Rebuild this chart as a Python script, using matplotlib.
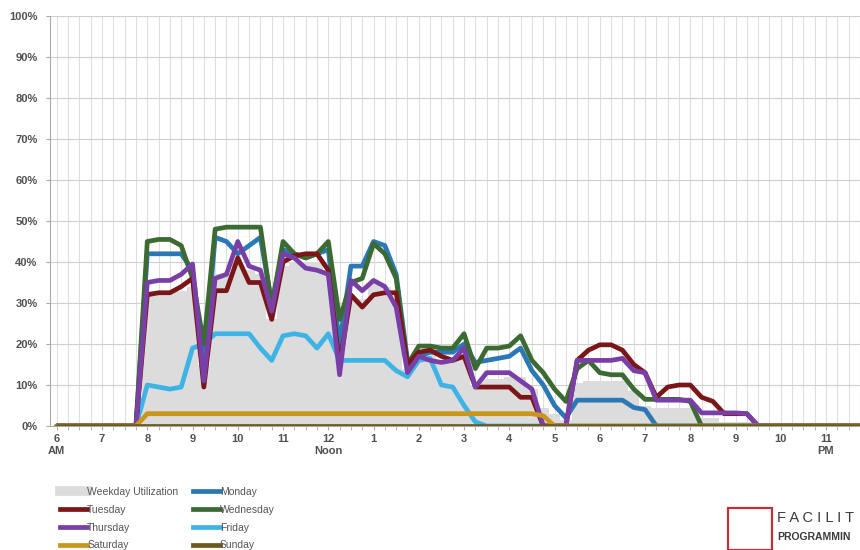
import numpy as np
import matplotlib
matplotlib.use("Agg")
import matplotlib.pyplot as plt
from matplotlib.lines import Line2D
from matplotlib.patches import Rectangle

plt.rcParams["font.family"] = ["Liberation Sans", "DejaVu Sans"]

# time of day in hours, 15 minute steps while the room is in use
times = [6.0, 7.75, 8.0, 8.25, 8.5, 8.75, 9.0, 9.25, 9.5, 9.75, 10.0, 10.25, 10.5, 10.75,
         11.0, 11.25, 11.5, 11.75, 12.0, 12.25, 12.5, 12.75, 13.0, 13.25, 13.5, 13.75,
         14.0, 14.25, 14.5, 14.75, 15.0, 15.25, 15.5, 15.75, 16.0, 16.25, 16.5, 16.75,
         17.0, 17.25, 17.5, 17.75, 18.0, 18.25, 18.5, 18.75, 19.0, 19.25, 19.5, 19.75,
         20.0, 20.25, 20.5, 20.75, 21.0, 21.25, 21.5, 21.75, 24.0]

weekday_util = [0, 0, 33, 33, 33, 33, 34, 15, 37, 37, 40, 38, 37, 26,
                39, 40, 40, 40, 38, 18, 31, 31, 35, 34, 30, 14,
                17.5, 17.5, 16, 16, 17, 10, 11.5, 11.5, 12, 12, 9, 4.5,
                3, 1.5, 10.5, 11, 11, 11, 11, 8.5, 5, 4.5, 4.5, 4.5,
                4.5, 2, 2, 1, 1, 1, 0, 0, 0]
monday = [0, 0, 42, 42, 42, 42, 38, 15, 46, 45, 42, 44, 46, 30,
          43, 42, 41, 42, 43, 20, 39, 39, 45, 44, 37, 16,
          17, 18, 18, 18, 20, 15.5, 16, 16.5, 17, 19, 13.5, 10,
          5, 2, 6.3, 6.3, 6.3, 6.3, 6.3, 4.5, 4, 0, 0, 0,
          0, 0, 0, 0, 0, 0, 0, 0, 0]
tuesday = [0, 0, 32, 32.5, 32.5, 34, 36, 9.5, 33, 33, 41, 35, 35, 26,
           40, 41.5, 42, 42, 38, 15, 32, 29, 32, 32.5, 32.5, 15,
           18, 18.5, 17, 16, 17, 9.5, 9.5, 9.5, 9.5, 7, 7, 0,
           0, 0, 16, 18.5, 19.8, 19.8, 18.5, 15, 13, 7, 9.5, 10,
           10, 7, 6, 3, 3, 3, 0, 0, 0]
wednesday = [0, 0, 45, 45.5, 45.5, 44, 36, 20, 48, 48.5, 48.5, 48.5, 48.5, 29,
             45, 42, 41, 42, 45, 26, 35, 36, 44.5, 42, 36, 15,
             19.5, 19.5, 19, 19, 22.5, 14, 19, 19, 19.5, 22, 16, 13,
             9, 6, 14, 16, 13, 12.5, 12.5, 9, 6.5, 6.5, 6.5, 6.5,
             6, 0, 0, 0, 0, 0, 0, 0, 0]
thursday = [0, 0, 35, 35.5, 35.5, 37, 39.5, 11, 36, 37, 45, 39, 38, 28,
            42, 41, 38.5, 38, 37, 12.5, 35.5, 33, 35.5, 34, 29, 13,
            17, 16, 15.5, 16, 19, 9.5, 13, 13, 13, 11, 9, 0,
            0, 0, 16, 16, 16, 16, 16.5, 13.5, 13, 6.3, 6.3, 6.3,
            6.3, 3.2, 3.2, 3.2, 3.2, 3, 0, 0, 0]
friday = [0, 0, 10, 9.5, 9, 9.5, 19, 20, 22.5, 22.5, 22.5, 22.5, 19, 16,
          22, 22.5, 22, 19, 22.5, 16, 16, 16, 16, 16, 13.5, 12,
          16, 16.5, 10, 9.5, 5, 1, 0, 0, 0, 0, 0, 0,
          0, 0, 0, 0, 0, 0, 0, 0, 0, 0, 0, 0,
          0, 0, 0, 0, 0, 0, 0, 0, 0]
saturday = [0, 0, 3, 3, 3, 3, 3, 3, 3, 3, 3, 3, 3, 3,
            3, 3, 3, 3, 3, 3, 3, 3, 3, 3, 3, 3,
            3, 3, 3, 3, 3, 3, 3, 3, 3, 3, 3, 2.5,
            0, 0, 0, 0, 0, 0, 0, 0, 0, 0, 0, 0,
            0, 0, 0, 0, 0, 0, 0, 0, 0]
sunday = [0] * len(times)

hour_labels = ["6\nAM", "7", "8", "9", "10", "11", "12\nNoon", "1", "2", "3",
               "4", "5", "6", "7", "8", "9", "10", "11\nPM"]

colors = {
    "Monday": "#2a78b5",
    "Tuesday": "#7a1518",
    "Wednesday": "#3c6a33",
    "Thursday": "#7a3fa6",
    "Friday": "#3db4e5",
    "Saturday": "#c8961c",
    "Sunday": "#6b5a1c",
}
fill_color = "#dcdcdc"

fig = plt.figure(figsize=(8.6, 5.5), dpi=100)
ax = fig.add_axes([50 / 860, 124 / 550, 810 / 860, 410 / 550])

ax.fill_between(times, weekday_util, color=fill_color, step="mid", lw=0, zorder=1)

series = [("Friday", friday), ("Monday", monday), ("Wednesday", wednesday),
          ("Tuesday", tuesday), ("Thursday", thursday), ("Saturday", saturday),
          ("Sunday", sunday)]
for i, (name, vals) in enumerate(series):
    ax.plot(times, vals, color=colors[name], lw=3.4, solid_joinstyle="round",
            solid_capstyle="round", zorder=3 + i)

ax.set_xlim(5.85, 23.7)
ax.set_ylim(0, 100)

ax.set_yticks(np.arange(0, 101, 10))
ax.set_yticklabels([f"{v}%" for v in range(0, 101, 10)])
ax.set_xticks(np.arange(6, 24, 1))
ax.set_xticklabels(hour_labels)
ax.set_xticks(np.arange(6, 23.8, 0.25), minor=True)

ax.grid(axis="y", color="#cfcfcf", lw=0.8, zorder=0)
ax.grid(axis="x", which="both", color="#dedede", lw=0.8, zorder=0)
ax.set_axisbelow(True)

for lab in ax.get_xticklabels() + ax.get_yticklabels():
    lab.set_fontweight("bold")
    lab.set_fontsize(8)
    lab.set_color("#505050")
ax.tick_params(axis="x", which="both", length=3, color="#aaaaaa", pad=3)
ax.tick_params(axis="y", length=3, color="#aaaaaa", pad=6)

for s in ["top", "right"]:
    ax.spines[s].set_visible(False)
ax.spines["left"].set_color("#aaaaaa")
ax.spines["bottom"].set_color("#aaaaaa")

handles = [
    Line2D([], [], color=fill_color, lw=7),
    Line2D([], [], color=colors["Tuesday"], lw=3.4),
    Line2D([], [], color=colors["Thursday"], lw=3.4),
    Line2D([], [], color=colors["Saturday"], lw=3.4),
    Line2D([], [], color=colors["Monday"], lw=3.4),
    Line2D([], [], color=colors["Wednesday"], lw=3.4),
    Line2D([], [], color=colors["Friday"], lw=3.4),
    Line2D([], [], color=colors["Sunday"], lw=3.4),
]
labels = ["Weekday Utilization", "Tuesday", "Thursday", "Saturday",
          "Monday", "Wednesday", "Friday", "Sunday"]
leg = fig.legend(handles, labels, loc="upper left", bbox_to_anchor=(60 / 860, 1 - 487 / 550),
                 ncol=2, frameon=False, fontsize=7.5, handlelength=2.6,
                 handletextpad=0.0, columnspacing=1.4, labelspacing=0.75,
                 borderaxespad=0, borderpad=0)
for t in leg.get_texts():
    t.set_color("#555555")

# logo in the bottom right corner, cut off by the figure edge as in the source
fig.patches.append(Rectangle((728 / 860, 1 - 550 / 550), 44 / 860, 42 / 550,
                             transform=fig.transFigure, fill=False,
                             edgecolor="#c0303a", lw=1.6))
fig.text(777 / 860, 1 - 518 / 550, "F A C I L I T", fontsize=10.5,
         color="#3a3a3a", va="center", ha="left")
fig.text(777 / 860, 1 - 537 / 550, "PROGRAMMIN", fontsize=7.5, fontweight="bold",
         color="#3a3a3a", va="center", ha="left")

fig.savefig("out.png", dpi=100)
